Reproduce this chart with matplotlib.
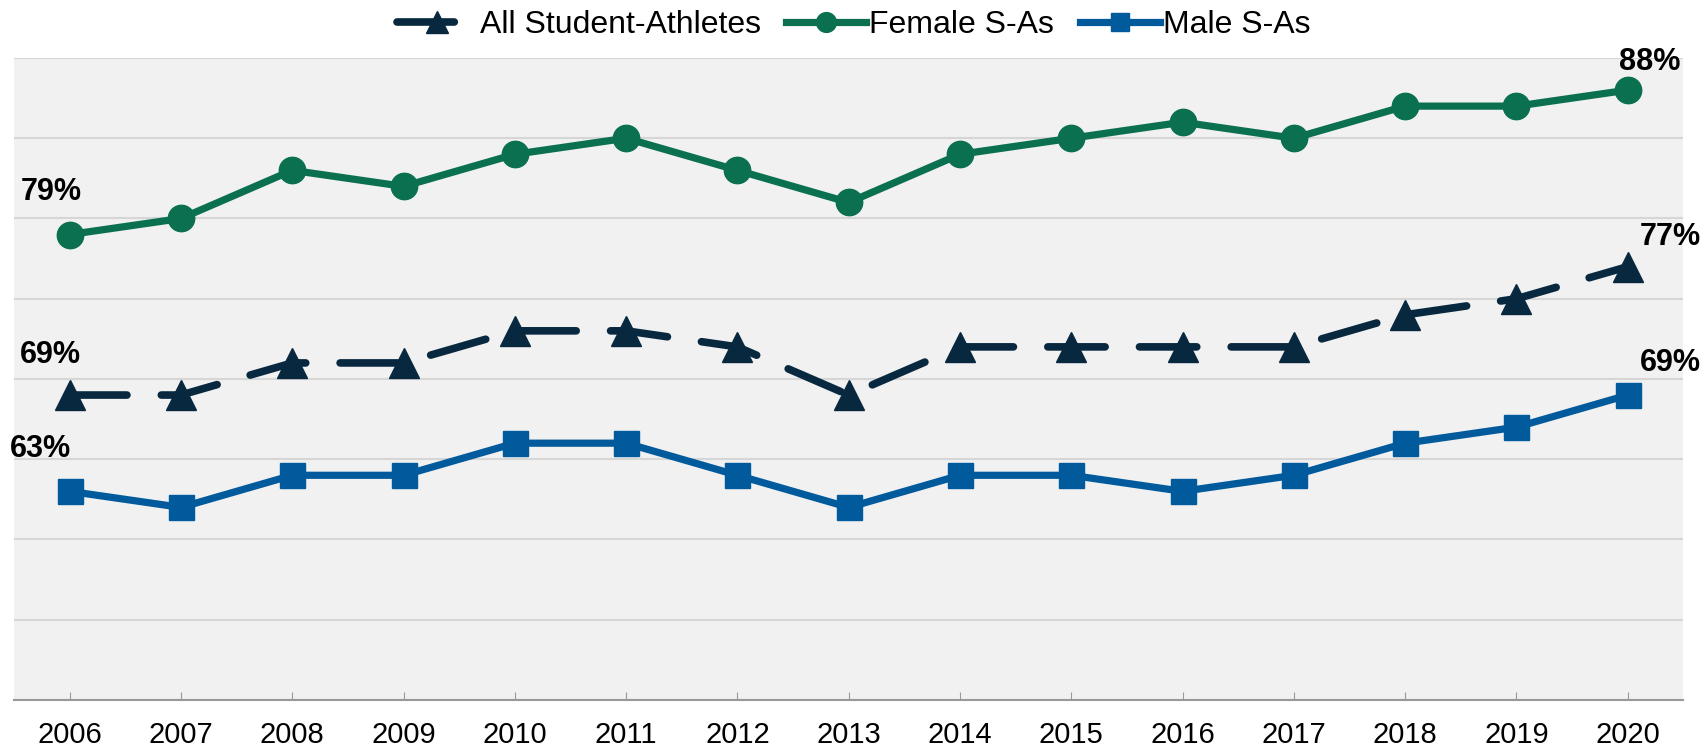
import matplotlib
matplotlib.use("Agg")
import matplotlib.pyplot as plt

plt.rcParams['font.family'] = ['Liberation Sans', 'DejaVu Sans']

# data (percent)
years = ["2006", "2007", "2008", "2009", "2010", "2011", "2012", "2013",
         "2014", "2015", "2016", "2017", "2018", "2019", "2020"]
all_sa = [69, 69, 71, 71, 73, 73, 72, 69, 72, 72, 72, 72, 74, 75, 77]
female = [79, 80, 83, 82, 84, 85, 83, 81, 84, 85, 86, 85, 87, 87, 88]
male = [63, 62, 64, 64, 66, 66, 64, 62, 64, 64, 63, 64, 66, 67, 69]

navy = "#08283f"
green = "#0a7050"
blue = "#005a9c"

fig = plt.figure(figsize=(17.07, 7.53), dpi=100)
ax = fig.add_axes([0.0082, 0.0704, 0.978, 0.8526])
ax.set_facecolor("#f1f1f1")

x = list(range(len(years)))

ax.plot(x, all_sa, color=navy, lw=5.5, marker="^", ms=22, linestyle=(0, (7.5, 4.5)),
        dash_capstyle="round", label="All Student-Athletes", zorder=3)
ax.plot(x, female, color=green, lw=5.2, marker="o", ms=19,
        label="Female S-As", zorder=3)
ax.plot(x, male, color=blue, lw=5.2, marker="s", ms=18,
        label="Male S-As", zorder=3)

# end labels
def lab(i, v, dx, dy):
    ax.annotate(f"{v}%", (x[i], v), xytext=(dx, dy), textcoords="offset pixels",
                ha="center", va="center", fontsize=22, fontweight="bold", zorder=4)

lab(0, female[0], -18, 43)
lab(0, all_sa[0], -19, 40)
lab(0, male[0], -29, 42)
lab(-1, female[-1], 22, 28)
lab(-1, all_sa[-1], 43, 30)
lab(-1, male[-1], 43, 32)

ax.set_xlim(-0.5, len(years) - 0.5)
ax.set_ylim(50, 90)
ax.set_yticks(range(50, 91, 5))
ax.set_yticklabels([])
ax.tick_params(axis="y", length=0)
ax.set_xticks(x)
ax.set_xticklabels(years, fontsize=21)
ax.tick_params(axis="x", length=6, color="#999999", pad=15, direction="in")
ax.grid(axis="y", color="#d6d6d6", lw=1.5, zorder=0)
ax.set_axisbelow(True)
for s in ["left", "right", "top"]:
    ax.spines[s].set_visible(False)
ax.spines["bottom"].set_color("#999999")
ax.spines["bottom"].set_linewidth(1.5)

leg = fig.legend(loc="upper center", bbox_to_anchor=(0.5, 1.025), ncol=3,
                 frameon=False, fontsize=23, handlelength=2.5,
                 columnspacing=0.8, handletextpad=0.1, markerscale=0.75)

fig.savefig("out.png", dpi=100)
